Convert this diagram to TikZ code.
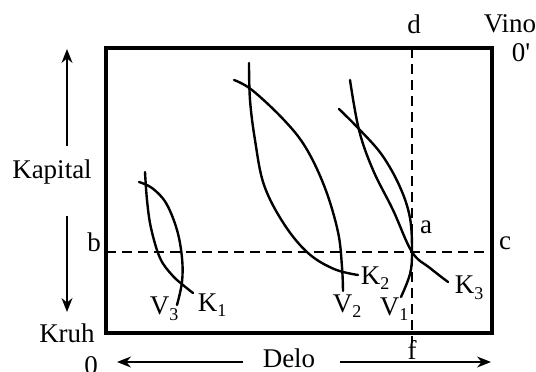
\documentclass[tikz,border=0pt]{standalone}
\usepackage{fontspec}
\setmainfont{Liberation Serif}
\usetikzlibrary{arrows.meta}
\newcommand\subsc[1]{\raisebox{-0.45ex}{\fontsize{18}{18}\selectfont #1}}
\begin{document}
\begin{tikzpicture}[x=1pt,y=-1pt,
  lbl/.style={font=\fontsize{27}{32}\selectfont, inner sep=0pt},
  frame/.style={line width=3.2pt},
  curve/.style={line width=2.4pt, line cap=round, line join=round},
  guide/.style={line width=1.5pt, dash pattern=on 10pt off 6pt},
  axisarrow/.style={line width=1.3pt, -{Stealth[length=14pt,width=11pt]}}]
\useasboundingbox (0,0) rectangle (536,372);
% frame
\draw[frame] (106,48) rectangle (492,333);
% guide lines
\coordinate (bL) at (106,252);
\coordinate (cR) at (492,252);
\coordinate (dT) at (412,48);
\coordinate (fB) at (412,343);
\coordinate (a) at (412,252);
\draw[guide] (bL) -- (cR);
\draw[guide] (dT) -- (fB);
% labels
\node[lbl] (b) at (94,242) {b};
\node[lbl] (c) at (505,243) {c};
\node[lbl] (d) at (414,24) {d};
\node[lbl] (f) at (412,350) {f};
\node[lbl] (alab) at (426,227) {a};
\node[lbl] (vino) at (510,24) {Vino};
\node[lbl] (oprime) at (521,53) {0\textquotesingle};
\node[lbl] (kapital) at (52,172) {Kapital};
\node[lbl] (kruh) at (67,333) {Kruh};
\node[lbl] (zero) at (91,366) {0};
\node[lbl] (delo) at (289,358) {Delo};
% axis arrows
\coordinate (kapTop) at (67,49);
\coordinate (kapUp) at (67,146);
\coordinate (kapDn) at (67,216);
\coordinate (kapBot) at (67,312);
\draw[axisarrow] (kapUp) -- (kapTop);
\draw[axisarrow] (kapDn) -- (kapBot);
\coordinate (delL) at (243,362);
\coordinate (delLtip) at (117,362);
\coordinate (delR) at (340,362);
\coordinate (delRtip) at (491,362);
\draw[axisarrow] (delL) -- (delLtip);
\draw[axisarrow] (delR) -- (delRtip);
% group 3 (left)
\draw[curve] plot[smooth, tension=0.6] coordinates {(145,172) (147,200) (151,228) (160,258) (172,275) (183,285) (193,293)};
\draw[curve] plot[smooth, tension=0.6] coordinates {(139,182) (152,188) (166,203) (177,230) (182,258) (182,282) (177,305)};
\node[lbl] (k1) at (212,305) {K\subsc{1}};
\node[lbl] (v3) at (164,309) {V\subsc{3}};
% group 2 (middle)
\draw[curve] plot[smooth, tension=0.6] coordinates {(249,63) (250,100) (255,140) (264,185) (284,224) (308,253) (334,269) (358,275)};
\draw[curve] plot[smooth, tension=0.6] coordinates {(234,80) (252,90) (284,120) (306,148) (325,188) (338,232) (342,267) (343,291)};
\node[lbl] (k2) at (375,278) {K\subsc{2}};
\node[lbl] (v2) at (347,306) {V\subsc{2}};
% group 1 (right)
\draw[curve] plot[smooth, tension=0.6] coordinates {(350,80) (359,130) (373,170) (393,210) (412,252) (430,268) (448,282)};
\draw[curve] plot[smooth, tension=0.6] coordinates {(339,109) (359,129) (382,155) (400,187) (410,218) (412,252) (410,274) (401,297)};
\node[lbl] (k3) at (469,288) {K\subsc{3}};
\node[lbl] (v1) at (394,309) {V\subsc{1}};
\end{tikzpicture}
\end{document}
